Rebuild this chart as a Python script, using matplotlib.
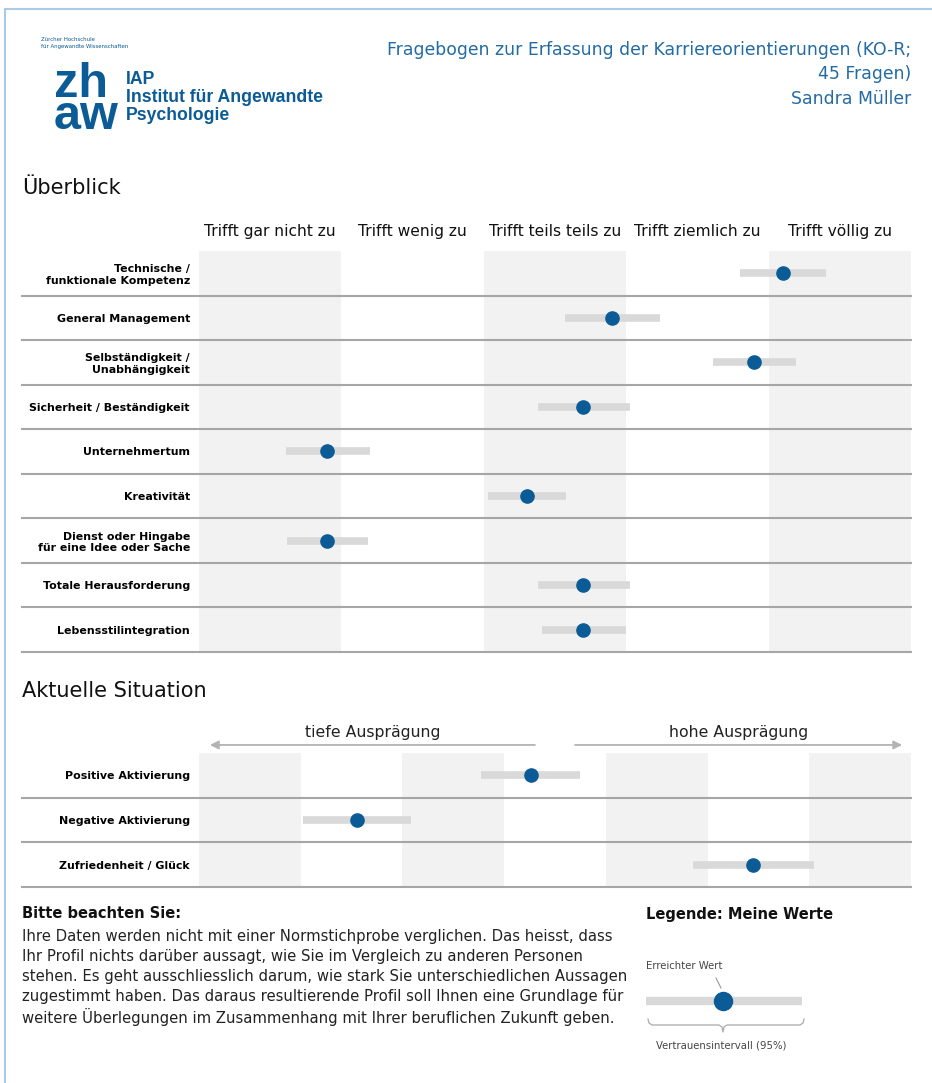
import matplotlib.pyplot as plt
from matplotlib.patches import FancyArrowPatch

# --- Daten ---
kategorien = [
    "Technische /\nfunktionale Kompetenz",
    "General Management",
    "Selbständigkeit /\nUnabhängigkeit",
    "Sicherheit / Beständigkeit",
    "Unternehmertum",
    "Kreativität",
    "Dienst oder Hingabe\nfür eine Idee oder Sache",
    "Totale Herausforderung",
    "Lebensstilintegration",
]
werte = [4.60, 3.40, 4.40, 3.20, 1.40, 2.80, 1.40, 3.20, 3.20]
ki_unten = [4.30, 3.07, 4.11, 2.88, 1.11, 2.53, 1.12, 2.88, 2.91]
ki_oben = [4.90, 3.74, 4.69, 3.53, 1.70, 3.08, 1.69, 3.53, 3.50]
antworten = ["Trifft gar nicht zu", "Trifft wenig zu", "Trifft teils teils zu",
             "Trifft ziemlich zu", "Trifft völlig zu"]

situation = ["Positive Aktivierung", "Negative Aktivierung", "Zufriedenheit / Glück"]
sit_werte = [3.76, 2.05, 5.95]
sit_unten = [3.27, 1.52, 5.36]
sit_oben = [4.25, 2.58, 6.55]

W, H = 932, 1083
BLAU = "#0b5b96"
GRAU_SPALTE = "#f2f2f2"
GRAU_KI = "#d9d9d9"
GRAU_LINIE = "#a6a6a6"


def box(x0, y0, x1, y1):
    # Pixel (oben links) -> Figure-Koordinaten
    return [x0 / W, 1 - y1 / H, (x1 - x0) / W, (y1 - y0) / H]


def profil(ax, labels, mitte, unten, oben, n_spalten):
    n = len(labels)
    ax.set_xlim(0.5, n_spalten + 0.5)
    ax.set_ylim(n + 0.5, 0.5)
    for k in range(1, n_spalten + 1, 2):
        ax.axvspan(k - 0.5, k + 0.5, color=GRAU_SPALTE, lw=0, zorder=0)
    y = list(range(1, n + 1))
    ax.hlines(y, unten, oben, color=GRAU_KI, lw=5.5, zorder=2)
    ax.plot(mitte, y, "o", color=BLAU, ms=9.5, zorder=3)
    links = -(199 - 22) / 712
    for i in range(n):
        ax.axhline(i + 1.5, xmin=links, xmax=1, color=GRAU_LINIE, lw=1.5,
                   clip_on=False, zorder=1)
    ax.set_yticks(y, labels, fontsize=7.9, fontweight="bold")
    ax.tick_params(axis="y", length=0, pad=6.5)
    for s in ax.spines.values():
        s.set_visible(False)


fig = plt.figure(figsize=(W / 100, H / 100), dpi=100)

# Rahmen / Hintergrund-Ebene in Pixeln
bg = fig.add_axes([0, 0, 1, 1])
bg.set_xlim(0, W)
bg.set_ylim(H, 0)
bg.axis("off")
bg.plot([5, W], [9, 9], color="#a9cbe6", lw=1.5)
bg.plot([5, 5], [9, H], color="#a9cbe6", lw=1.5)

# Logo
bg.text(41, 43, "Zürcher Hochschule\nfür Angewandte Wissenschaften", fontsize=3.9,
        color=BLAU, va="center", linespacing=1.3)
bg.text(54, 62, "zh\naw", fontsize=35, fontweight="bold", color=BLAU,
        family="Liberation Sans", va="top", linespacing=0.62)
for yy, t in [(80, "IAP"), (98, "Institut für Angewandte"), (116, "Psychologie")]:
    bg.text(126, yy, t, fontsize=12.7, fontweight="bold", color=BLAU,
            family="Liberation Sans", va="center")

# Titel rechts
for yy, t in [(50, "Fragebogen zur Erfassung der Karriereorientierungen (KO-R;"),
              (74, "45 Fragen)"), (99, "Sandra Müller")]:
    bg.text(911, yy, t, fontsize=12.4, color="#236ba3", ha="right", va="center")

bg.text(22, 188, "Überblick", fontsize=15, color="#111", va="center")
bg.text(22, 691, "Aktuelle Situation", fontsize=15, color="#111", va="center")

# Überblick
ax1 = fig.add_axes(box(199, 251, 911, 652))
profil(ax1, kategorien, werte, ki_unten, ki_oben, 5)
ax1.xaxis.tick_top()
ax1.set_xticks(range(1, 6), antworten, fontsize=11.2, color="#111")
ax1.tick_params(axis="x", length=0, pad=8.5)

# Aktuelle Situation
ax2 = fig.add_axes(box(199, 753, 911, 887))
profil(ax2, situation, sit_werte, sit_unten, sit_oben, 7)
ax2.set_xticks([])
tr = ax2.get_xaxis_transform()
for x0, x1, t in [(3.83, 0.58, "tiefe Ausprägung"), (4.17, 7.44, "hohe Ausprägung")]:
    ax2.add_patch(FancyArrowPatch((x0, 1.06), (x1, 1.06), transform=tr,
                                  arrowstyle="-|>,head_length=5,head_width=2.5",
                                  color="#b3b3b3", lw=1.3, clip_on=False))
    ax2.text((x0 + x1) / 2, 1.15, t, transform=tr, ha="center", va="center",
             fontsize=11.3, color="#222")

# Hinweis
bg.text(22, 914, "Bitte beachten Sie:", fontsize=10.5, fontweight="bold",
        color="#111", va="center")
zeilen = [
    "Ihre Daten werden nicht mit einer Normstichprobe verglichen. Das heisst, dass",
    "Ihr Profil nichts darüber aussagt, wie Sie im Vergleich zu anderen Personen",
    "stehen. Es geht ausschliesslich darum, wie stark Sie unterschiedlichen Aussagen",
    "zugestimmt haben. Das daraus resultierende Profil soll Ihnen eine Grundlage für",
    "weitere Überlegungen im Zusammenhang mit Ihrer beruflichen Zukunft geben.",
]
for i, z in enumerate(zeilen):
    bg.text(22, 936 + i * 20.3, z, fontsize=10.7, color="#222", va="center")

# Legende
bg.text(646, 914, "Legende: Meine Werte", fontsize=10.5, fontweight="bold",
        color="#111", va="center")
bg.plot([646, 802], [1001, 1001], color=GRAU_KI, lw=6, solid_capstyle="butt")
bg.plot([723], [1001], "o", color=BLAU, ms=13)
bg.text(646, 966, "Erreichter Wert", fontsize=7.3, color="#444", va="center")
bg.plot([716, 721], [978, 988], color="#999", lw=0.8)
bg.plot([648, 649, 652, 719, 722, 723, 724, 727, 800, 803, 804],
        [1019, 1023, 1025, 1025, 1027, 1032, 1027, 1025, 1025, 1023, 1019],
        color="#aaa", lw=0.9)
bg.text(721, 1046, "Vertrauensintervall (95%)", fontsize=7.3, color="#444",
        ha="center", va="center")

fig.savefig("out.png", dpi=100)
